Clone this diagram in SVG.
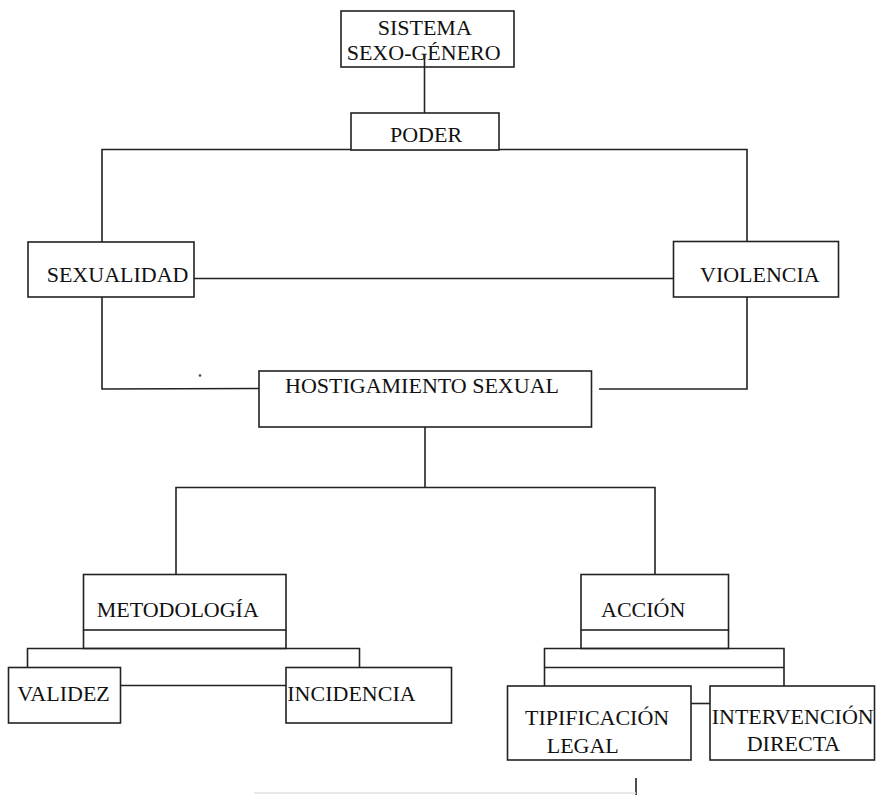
<svg xmlns="http://www.w3.org/2000/svg" width="876" height="795" viewBox="0 0 876 795">
<style>
.box{fill:#fff;stroke:#222;stroke-width:1.6}
.ln{fill:none;stroke:#222;stroke-width:1.6}
.t{font-family:"Liberation Serif","Times New Roman",serif;font-size:22px;fill:#111}
</style>
<rect width="876" height="795" fill="#fff"/>
<g id="connectors">
  <line class="ln" x1="424.5" y1="55" x2="424.5" y2="113"/>
  <polyline class="ln" points="102,243 102,149.5 747,149.5 747,243"/>
  <line class="ln" x1="194" y1="278.5" x2="673" y2="278.5"/>
  <polyline class="ln" points="102,297 102,389 268,388.5"/>
  <polyline class="ln" points="747,297 747,389 599,389"/>
  <line class="ln" x1="425" y1="427" x2="425" y2="487.5"/>
  <polyline class="ln" points="176,574 176,487.5 655,487.5 655,574"/>
  <polyline class="ln" points="83.5,630 83.5,648.5 286,648.5 286,630"/>
  <polyline class="ln" points="27.5,667 27.5,648.5 359.5,648.5 359.5,667"/>
  <line class="ln" x1="120.5" y1="685.5" x2="286" y2="685.5"/>
  <polyline class="ln" points="581,630 581,648.5 728.5,648.5 728.5,630"/>
  <polyline class="ln" points="544.5,686 544.5,648.5 784,648.5 784,686"/>
  <line class="ln" x1="544.5" y1="667.5" x2="784" y2="667.5"/>
  <line class="ln" x1="691" y1="703.5" x2="710" y2="703.5"/>
  <line class="ln" x1="636" y1="778" x2="636" y2="795"/>
  <line x1="254" y1="793" x2="636" y2="793" stroke="#e2e2e2" stroke-width="1.5"/>
  <circle cx="200" cy="375.5" r="1.3" fill="#444"/>
</g>
<g id="sistema">
  <rect class="box" x="341" y="11" width="173" height="56"/>
  <text class="t" x="377.7" y="35">SISTEMA</text>
  <text class="t" x="346.7" y="60">SEXO-GÉNERO</text>
</g>
<g id="sistema-link"><line class="ln" x1="424.5" y1="55" x2="424.5" y2="67"/></g>
<g id="poder">
  <rect class="box" x="351" y="113" width="148" height="37"/>
  <text class="t" x="390" y="141.5">PODER</text>
</g>
<g id="sexualidad">
  <rect class="box" x="28" y="242" width="166" height="55"/>
  <text class="t" x="46.7" y="282">SEXUALIDAD</text>
</g>
<g id="violencia">
  <rect class="box" x="673.5" y="241.5" width="165" height="55.5"/>
  <text class="t" x="700" y="281.5">VIOLENCIA</text>
</g>
<g id="hostigamiento">
  <rect class="box" x="259" y="371" width="332.5" height="56"/>
  <text class="t" x="285" y="393">HOSTIGAMIENTO SEXUAL</text>
</g>
<g id="metodologia">
  <rect class="box" x="83.5" y="574.5" width="202.5" height="55.5"/>
  <text class="t" x="96.7" y="617">METODOLOGÍA</text>
</g>
<g id="validez">
  <rect class="box" x="8.5" y="667.5" width="112" height="55.5"/>
  <text class="t" x="17.3" y="700.5">VALIDEZ</text>
</g>
<g id="incidencia">
  <rect class="box" x="286" y="667.5" width="165.5" height="55.5"/>
  <text class="t" x="287.3" y="700.5">INCIDENCIA</text>
</g>
<g id="accion">
  <rect class="box" x="581" y="574.5" width="147.5" height="55.5"/>
  <text class="t" x="601" y="617">ACCIÓN</text>
</g>
<g id="tipificacion">
  <rect class="box" x="507.5" y="686" width="183.5" height="74"/>
  <text class="t" x="525" y="725">TIPIFICACIÓN</text>
  <text class="t" x="546.7" y="752.5">LEGAL</text>
</g>
<g id="intervencion">
  <rect class="box" x="710" y="686" width="164.5" height="74"/>
  <text class="t" x="711.7" y="723.5">INTERVENCIÓN</text>
  <text class="t" x="746.7" y="751">DIRECTA</text>
</g>
</svg>
